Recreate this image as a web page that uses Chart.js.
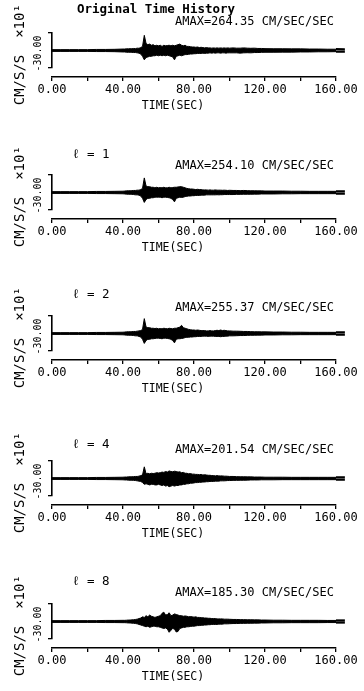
<!DOCTYPE html>
<html><head><meta charset="utf-8">
<script src="https://cdn.jsdelivr.net/npm/chart.js@4.4.0/dist/chart.umd.min.js"></script>
<style>
html,body{margin:0;padding:0;background:#fff;}
#wrap{position:relative;width:364px;height:691px;overflow:hidden;background:#fff;}
canvas{position:absolute;left:0;}
</style></head><body><div id="wrap"></div>
<script>
// shared time stamps (s)
const TIME = [0,5,10,15,20,25,30,35,
 40,41,42,43,44,45,46,47,48,49,
 50,51,52,53,54,55,56,57,58,59,
 60,61,62,63,64,65,66,67,68,69,
 70,71,72,73,74,75,76,77,78,79,
 80,81,82,83,84,85,86,87,88,89,
 90,91,92,93,94,95,96,97,98,99,100,
 102,104,106,108,110,112,114,116,118,120,
 125,130,135,140,145,150,155,160,165];

const HEADS = ['Original Time History','\u2113 = 1','\u2113 = 2','\u2113 = 4','\u2113 = 8'];
const AMAX = [264.35, 254.10, 255.37, 201.54, 185.30];
const X_TICKS = [0,20,40,60,80,100,120,140,160];
const X_LABELS = ['0.00','','40.00','','80.00','','120.00','','160.00'];
const X_RANGE = [0,160];
const Y_TICKS = [-30,30];
const Y_LABEL = '-30.00';
const Y_TITLE = 'CM/S/S  \u00d710\u00b9';
const X_TITLE = 'TIME(SEC)';

// upper / lower envelopes (x10 cm/s/s)
const UP1 = [1.5,1.5,1.5,1.5,1.5,1.8,1.8,2,
 2.5,2.5,3,2.8,3.2,3,3.5,3.2,4,3.8,
 5,7,26,12,10,11,9,10,8,9,
 8,9,7,9,8,8.5,9,8,9,8,
 9,10,11,9,8,9,7,7,6.5,6,
 6,5.5,6,5,5.5,5,4.5,5,4.5,4.5,
 4,4.5,4,4.5,4,4.5,4,4.5,4,4.5,4,
 4.5,4,4,4.5,4,3.8,4,3.5,3.5,3.2,
 3,3,2.8,2.8,2.5,2.5,2.2,2.2,2];
const LO1 = [-1.5,-1.5,-1.5,-1.5,-1.5,-1.8,-1.8,-2,
 -2.5,-2.5,-3,-3,-3,-3.2,-3.5,-3.5,-4,-4.5,
 -6,-10,-16,-12,-11,-10,-10,-9,-9,-8,
 -9,-8,-9,-8,-9,-8,-9,-10,-11,-16,
 -10,-9,-8,-9,-8,-7,-7,-6.5,-6,-6,
 -5.5,-5.5,-5,-5,-5,-4.5,-5,-4.5,-4.5,-4,
 -4.5,-4,-4.5,-4,-4,-4.5,-4,-4,-4.5,-4,-4,
 -4,-4,-4.5,-4,-3.8,-4,-3.5,-3.5,-3.2,-3,
 -3,-2.8,-2.8,-2.5,-2.5,-2.2,-2.2,-2,-2];

const UP2 = [1.5,1.5,1.5,1.5,1.5,1.8,1.8,2,
 2.2,2.5,2.8,3,3,3.2,3.5,3.5,4,4,
 5,7,25,11,10,10,9,9,8,9,
 8,8.5,8,9,8,8,9,8,8.5,9,
 9,9.5,10,10,9,8,7,6.5,6,6,
 5.5,5,5.5,5,5,4.5,4.5,4.5,4,4.5,
 4,4,4.5,4,4,4,3.8,4,3.8,3.5,3.8,
 3.5,3.5,3.2,3.5,3.2,3,3,2.8,2.8,2.5,
 2.5,2.5,2.2,2.2,2,2,2,2,2];
const LO2 = [-1.5,-1.5,-1.5,-1.5,-1.5,-1.8,-1.8,-2,
 -2.2,-2.5,-2.8,-3,-3,-3.2,-3.5,-4,-4,-4.5,
 -6,-10,-17,-12,-10,-10,-9,-9,-8,-8,
 -8,-8,-9,-8,-8,-8.5,-9,-10,-12,-16,
 -10,-9,-8,-8.5,-8,-7,-6.5,-6,-6,-5.5,
 -5.5,-5,-5,-5,-4.5,-4.5,-4.5,-4,-4,-4,
 -4,-4,-4,-3.8,-4,-3.8,-3.8,-3.5,-3.5,-3.5,-3.5,
 -3.5,-3.2,-3.2,-3,-3,-3,-2.8,-2.8,-2.5,-2.5,
 -2.5,-2.2,-2.2,-2,-2,-2,-2,-2,-2];

const UP3 = [1.5,1.5,1.5,1.5,1.5,1.8,1.8,2,
 2.2,2.5,2.8,3,3,3.2,3.5,3.5,4,4.5,
 5,7,25.5,11,10,10,9,9,8.5,9,
 8,8.5,8,9,8.5,8,9,8.5,8,9,
 9,10,11,14,10,9,8,7,6.5,6,
 6,5.5,6,5.5,5,5,5,4.5,4.5,5,
 4.5,4.5,5,5.5,5,6,5,5.5,5,4.5,4.5,
 4,4,3.8,3.5,3.5,3.2,3,3,2.8,2.8,
 2.5,2.5,2.2,2.2,2,2,2,2,2];
const LO3 = [-1.5,-1.5,-1.5,-1.5,-1.5,-1.8,-1.8,-2,
 -2.2,-2.5,-2.8,-3,-3,-3.2,-3.5,-4,-4,-5,
 -6,-10,-17,-12,-10,-10,-9,-9,-8.5,-8,
 -8,-8.5,-9,-8,-8,-8.5,-9,-10,-12,-16,
 -10,-9,-9,-8.5,-8,-7,-6.5,-6.5,-6,-6,
 -5.5,-5.5,-5,-5,-5,-4.5,-4.5,-4.5,-5,-4.5,
 -4.5,-4.5,-5,-5,-5,-5.5,-5,-5,-4.5,-4.5,-4,
 -4,-3.8,-3.5,-3.5,-3.2,-3,-3,-2.8,-2.8,-2.5,
 -2.5,-2.2,-2.2,-2,-2,-2,-2,-2,-2];

const UP4 = [1.5,1.5,1.5,1.5,1.5,1.8,1.8,2,
 2.2,2.5,2.5,2.8,3,3,3.2,3.5,3.5,4,
 5,6,20,8,9,8,9,8.5,9,10,
 9.5,10,11,10.5,12,11,13,12,11.5,12.5,
 12,11,11.5,10,10.5,9,9,8,8.5,7.5,
 7.5,7,7,6.5,7,6,6.5,6,5.5,5.5,
 5,5,4.5,5,4.5,4.5,4.5,4,4,3.8,3.5,
 3.5,3.2,3,3,2.8,2.8,2.5,2.5,2.5,2.2,
 2.2,2.2,2,2,2,2,2,2,2];
const LO4 = [-1.5,-1.5,-1.5,-1.5,-1.5,-1.8,-1.8,-2,
 -2.2,-2.5,-2.5,-2.8,-3,-3,-3.2,-3.5,-4,-4.5,
 -5,-7,-10,-9,-10,-11,-10,-10,-11,-11,
 -10,-11,-12,-11,-13,-12,-14,-13,-12,-13,
 -12,-12,-11,-11,-10,-10,-9,-9,-8,-8,
 -7.5,-7,-7,-6.5,-6.5,-6,-6,-5.5,-5.5,-5,
 -5,-5,-4.5,-4.5,-4.5,-4,-4,-4,-3.8,-3.5,-3.5,
 -3.2,-3.2,-3,-3,-2.8,-2.5,-2.5,-2.5,-2.2,-2.2,
 -2.2,-2,-2,-2,-2,-2,-2,-2,-2];

const UP5 = [1.5,1.5,1.5,1.5,1.5,1.5,1.8,1.8,
 2,2,2.2,2.5,2.5,2.8,3,3.5,4,5,
 6,8,7,10,8,11,9,8,7,8,
 9,10,14,16,11,12,15,10,11,13,
 12,11,10,10,9,9.5,9,8,8.5,8,
 7.5,8,7,7,6.5,6.5,6,6,5.5,5.5,
 5,5,5,4.5,4.5,4.5,4.5,4,4,4,3.8,
 3.5,3.5,3.2,3.2,3,3,2.8,2.8,2.5,2.5,
 2.2,2.2,2,2,2,2,1.8,1.8,1.8];
const LO5 = [-1.5,-1.5,-1.5,-1.5,-1.5,-1.5,-1.8,-1.8,
 -2,-2,-2.2,-2.5,-2.5,-2.8,-3,-3.5,-4,-5,
 -6,-7,-8,-9,-8,-10,-9,-8,-8,-9,
 -9,-10,-11,-12,-11,-13,-18.5,-15,-12,-13,
 -18,-17,-12,-11,-10,-10,-9,-9,-8.5,-8,
 -8,-7.5,-7,-7,-6.5,-6.5,-6,-6,-5.5,-5.5,
 -5,-5,-5,-5,-4.5,-4.5,-4.5,-4,-4,-4,-3.8,
 -3.5,-3.5,-3.2,-3.2,-3,-3,-2.8,-2.8,-2.5,-2.5,
 -2.2,-2.2,-2,-2,-2,-2,-1.8,-1.8,-1.8];

const UPPER = [UP1,UP2,UP3,UP4,UP5];
const LOWER = [LO1,LO2,LO3,LO4,LO5];

const TOPS = [0,142,283,428,571];
const HEAD_Y = [10,13,12,17,11];
const AMAX_Y = [22,24,25,22,22];
const MONO = '"DejaVu Sans Mono", "Liberation Mono", monospace';
Chart.defaults.font.family = MONO;
Chart.defaults.color = '#000';

const panelText = {
  id: 'panelText',
  afterDraw(chart, args, o) {
    const c = chart.ctx;
    c.save();
    c.fillStyle = '#000';
    c.textBaseline = 'middle';
    c.textAlign = 'left';
    c.font = o.headFont;
    c.fillText(o.head, o.headX, o.headY);
    c.font = '12px ' + MONO;
    c.fillText(o.amax, 175, o.amaxY);
    c.textAlign = 'center';
    c.font = '11.5px ' + MONO;
    c.fillText(X_TITLE, 173, 106);
    c.restore();
  }
};

const wrap = document.getElementById('wrap');
for (let i = 0; i < 5; i++) {
  const cv = document.createElement('canvas');
  cv.width = 364; cv.height = 120;
  cv.style.top = TOPS[i] + 'px';
  wrap.appendChild(cv);
  const common = {
    borderColor:'#000', borderWidth:1, pointRadius:0, tension:0, clip:false, backgroundColor:'#000',
    // beyond the last axis tick the fill is clipped; thicken the edges there so the trace stays solid
    segment:{borderWidth: ctx => ctx.p0.parsed.x >= X_RANGE[1] ? 2.2 : undefined}
  };
  new Chart(cv, {
    type: 'line',
    data: {datasets: [
      Object.assign({data: TIME.map((t,k)=>({x:t, y:UPPER[i][k]})), fill:'+1'}, common),
      Object.assign({data: TIME.map((t,k)=>({x:t, y:LOWER[i][k]})), fill:false}, common)
    ]},
    options: {
      responsive:false, animation:false, devicePixelRatio:1,
      layout:{padding:{left:0, right:28, top:33, bottom:13}},
      plugins:{
        legend:{display:false}, tooltip:{enabled:false},
        panelText:{
          head: HEADS[i],
          headFont: i === 0 ? 'bold 12.5px ' + MONO : '12.5px ' + MONO,
          headX: i === 0 ? 77 : 72,
          headY: HEAD_Y[i],
          amax: 'AMAX=' + AMAX[i].toFixed(2) + ' CM/SEC/SEC',
          amaxY: AMAX_Y[i]
        }
      },
      scales: {
        x: {type:'linear', position:'bottom', weight:1, bounds:'data', grace:0,
          afterDataLimits: s => { s.min = X_RANGE[0]; s.max = X_RANGE[1]; },
          afterBuildTicks: s => { s.min = X_RANGE[0]; s.max = X_RANGE[1]; s.ticks = X_TICKS.map(v => ({value:v})); },
          afterFit: s => { s.height = 30; },
          ticks:{autoSkip:false, maxRotation:0, minRotation:0, padding:2, color:'#000', font:{size:12},
            callback:(v, idx) => X_LABELS[idx]},
          grid:{drawOnChartArea:false, drawTicks:true, tickLength:4, color:'#000', lineWidth:1.3},
          border:{display:true, color:'#000', width:1.6}},
        xgap: {type:'linear', position:'bottom', weight:0, display:true,
          afterFit: s => { s.height = 9; },
          ticks:{display:false}, grid:{display:false}, border:{display:false}},
        y: {type:'linear', position:'left', weight:0, min:-30, max:30,
          afterBuildTicks: s => { s.ticks = Y_TICKS.map(v => ({value:v})); },
          afterFit: s => { s.width = 20; },
          ticks:{display:false},
          grid:{drawOnChartArea:false, drawTicks:true, tickLength:4, color:'#000', lineWidth:1.3},
          border:{display:true, color:'#000', width:1.6},
          title:{display:true, text:Y_LABEL + ' ', color:'#000', font:{size:10}, padding:{top:0, bottom:0}}},
        yt: {type:'linear', position:'left', weight:1, display:true,
          afterFit: s => { s.width = 32; },
          ticks:{display:false}, grid:{display:false}, border:{display:false},
          title:{display:true, text:Y_TITLE + ' ', color:'#000', font:{size:14}, padding:{top:12, bottom:0}}}
      }
    },
    plugins:[panelText]
  });
}
</script>
</body></html>
